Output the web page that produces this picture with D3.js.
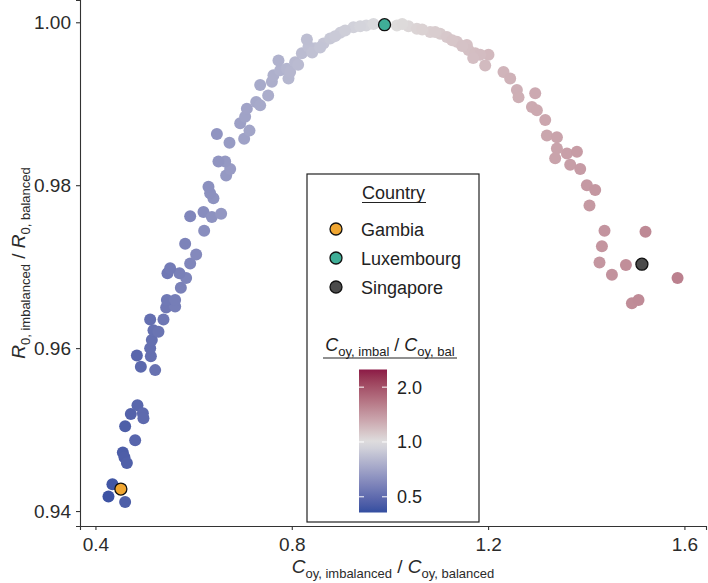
<!DOCTYPE html>
<html><head><meta charset="utf-8">
<script src="https://cdn.jsdelivr.net/npm/d3@7"></script>
<style>body{margin:0;background:#fff;} svg{display:block;font-family:"Liberation Sans",Arial,Helvetica,sans-serif;}</style>
</head><body><svg id="chart" width="708" height="583"></svg>
<script>
// ---- data ----
const xValues = [0.4265,0.4346,0.4605,0.4558,0.4591,0.4640,0.4809,0.4605,0.4721,0.4856,0.4966,0.4978,0.4925,0.5217,0.4844,0.5129,0.5115,0.5149,0.5182,0.5284,0.5115,0.5386,0.5441,0.5624,0.5455,0.5624,0.5740,0.5848,0.5712,0.5467,0.5522,0.5930,0.6052,0.5828,0.6215,0.5930,0.6201,0.6372,0.6561,0.6404,0.6337,0.6303,0.6663,0.6745,0.6643,0.6506,0.6731,0.6474,0.7030,0.7138,0.6949,0.7050,0.7085,0.7275,0.7356,0.7519,0.7356,0.7595,0.7627,0.7933,0.7764,0.7900,0.7729,0.8069,0.8206,0.8477,0.8340,0.8308,0.8646,0.8782,0.8986,0.9257,0.9516,0.9665,1.0142,1.0378,1.0250,1.0549,1.0820,1.1024,1.1160,1.1364,1.1568,1.1601,1.1737,1.2008,1.1941,1.2314,1.2450,1.2587,1.2620,1.2960,1.2893,1.2994,1.3164,1.3198,1.3402,1.3402,1.3606,1.3810,1.3367,1.3673,1.3877,1.4013,1.4182,1.4066,1.4372,1.5207,1.4319,1.4270,1.4808,1.4523,1.5860,1.4930,1.5065,1.0657,1.0922,1.1269,1.1472,1.1839,1.1696,0.7967,0.8130,0.8416,0.8579,0.8884,0.9088,0.9394];
const yValues = [0.9418,0.9433,0.9411,0.9472,0.9466,0.9459,0.9487,0.9504,0.9519,0.9530,0.9520,0.9514,0.9577,0.9573,0.9591,0.9590,0.9600,0.9610,0.9622,0.9620,0.9635,0.9635,0.9650,0.9651,0.9659,0.9659,0.9674,0.9686,0.9692,0.9692,0.9698,0.9704,0.9715,0.9728,0.9744,0.9762,0.9767,0.9761,0.9765,0.9784,0.9790,0.9798,0.9812,0.9820,0.9829,0.9829,0.9852,0.9863,0.9857,0.9867,0.9876,0.9884,0.9894,0.9902,0.9898,0.9910,0.9923,0.9927,0.9935,0.9931,0.9941,0.9943,0.9953,0.9951,0.9962,0.9968,0.9970,0.9979,0.9974,0.9980,0.9987,0.9994,0.9996,0.9998,0.9996,0.9995,0.9998,0.9992,0.9988,0.9986,0.9982,0.9976,0.9972,0.9966,0.9962,0.9960,0.9947,0.9939,0.9931,0.9917,0.9908,0.9913,0.9896,0.9892,0.9880,0.9861,0.9859,0.9845,0.9839,0.9841,0.9833,0.9825,0.9820,0.9800,0.9794,0.9775,0.9744,0.9743,0.9725,0.9705,0.9702,0.9690,0.9686,0.9655,0.9659,0.9991,0.9988,0.9978,0.9971,0.9960,0.9956,0.9939,0.9948,0.9963,0.9969,0.9983,0.9990,0.9995];
const countries = ["Gambia","Luxembourg","Singapore"];
const countryX = [0.4518,0.9890,1.5134];
const countryY = [0.9427,0.9997,0.9703];
const countryColors = ["#f0a631","#3fae97","#4b4b4b"];
const xTicks = [0.4,0.8,1.2,1.6];
const yTicks = [0.94,0.96,0.98,1.00];
const colorTicks = [0.5,1.0,2.0];
const colorLimits = [0.41,2.5];

// ---- setup ----
const svg = d3.select("#chart");
const allX = xValues.concat(countryX), allY = yValues.concat(countryY);
const xe = d3.extent(allX), ye = d3.extent(allY);
const xp = (xe[1]-xe[0])*0.05, yp = (ye[1]-ye[0])*0.05;
const x = d3.scaleLinear().domain([xe[0]-xp, xe[1]+xp]).range([80,706]);
const y = d3.scaleLinear().domain([ye[0]-yp, ye[1]+yp]).range([526,0]);

const lowC="#2c4a9e", midC="#dfdfdf", highC="#8c1a46";
const lmax = Math.max(Math.abs(Math.log(colorLimits[0])), Math.abs(Math.log(colorLimits[1])));
const iLow = d3.interpolateLab(lowC, midC), iHigh = d3.interpolateLab(midC, highC);
function col(v){ const t = 0.5 + Math.log(v)/(2*lmax); return t<0.5 ? iLow(Math.max(0,t*2)) : iHigh(Math.min(1,(t-0.5)*2)); }

// axes
const axisColor = "#333";
const gx = svg.append("g").attr("transform","translate(0,526)")
  .call(d3.axisBottom(x).tickValues(xTicks).tickFormat(d3.format(".1f")).tickSizeOuter(0).tickSize(4).tickPadding(8));
const gy = svg.append("g").attr("transform","translate(80,0)")
  .call(d3.axisLeft(y).tickValues(yTicks).tickFormat(d3.format(".2f")).tickSizeOuter(0).tickSize(4).tickPadding(5));
[gx,gy].forEach(g=>{
  g.select(".domain").attr("stroke",axisColor).attr("stroke-width",1.1);
  g.selectAll(".tick line").attr("stroke",axisColor).attr("stroke-width",1.1);
  g.selectAll(".tick text").attr("fill","#2b2b2b").style("font-size","19px").style("font-family","'Liberation Sans',Arial,sans-serif");
});

// points
const pts = xValues.map((v,i)=>({x:v,y:yValues[i]}));
svg.append("g").selectAll("circle").data(pts).join("circle")
  .attr("cx",d=>x(d.x)).attr("cy",d=>y(d.y)).attr("r",6)
  .attr("fill",d=>col(d.x));
svg.append("g").selectAll("circle").data(countries.map((c,i)=>({c,x:countryX[i],y:countryY[i],f:countryColors[i]}))).join("circle")
  .attr("cx",d=>x(d.x)).attr("cy",d=>y(d.y)).attr("r",6)
  .attr("fill",d=>d.f).attr("stroke","#111").attr("stroke-width",1.3);

// axis titles
function richTitle(g, base, sub1, sub2){
  const t = g.append("text").attr("text-anchor","middle").attr("fill","#2b2b2b");
  t.append("tspan").text(base).style("font-style","italic").style("font-size","19px");
  t.append("tspan").text(sub1).style("font-size","13px").attr("dy",5);
  t.append("tspan").text(" / ").style("font-size","19px").attr("dy",-5);
  t.append("tspan").text(base).style("font-style","italic").style("font-size","19px");
  t.append("tspan").text(sub2).style("font-size","13px").attr("dy",5);
  return t;
}
richTitle(svg.append("g").attr("transform","translate(393,573)"),"C","oy, imbalanced","oy, balanced");
richTitle(svg.append("g").attr("transform","translate(25,263) rotate(-90)"),"R","0, imbalanced","0, balanced");

// legend
const lg = svg.append("g");
lg.append("rect").attr("x",307).attr("y",174).attr("width",172).attr("height",348)
  .attr("fill","#fff").attr("stroke","#222").attr("stroke-width",1.2);
lg.append("text").attr("x",362).attr("y",199).text("Country").style("font-size","18px").attr("fill","#222");
lg.append("line").attr("x1",362).attr("x2",426).attr("y1",202.5).attr("y2",202.5).attr("stroke","#222").attr("stroke-width",1.2);
countries.forEach((c,i)=>{
  const cy = 229 + i*29;
  lg.append("circle").attr("cx",336).attr("cy",cy).attr("r",6).attr("fill",countryColors[i]).attr("stroke","#111").attr("stroke-width",1.3);
  lg.append("text").attr("x",361).attr("y",cy+6.5).text(c).style("font-size","18px").attr("fill","#222");
});
const ct = lg.append("text").attr("x",390).attr("y",351).attr("text-anchor","middle").attr("fill","#222");
ct.append("tspan").text("C").style("font-style","italic").style("font-size","18px");
ct.append("tspan").text("oy, imbal").style("font-size","13px").attr("dy",5);
ct.append("tspan").text(" / ").style("font-size","18px").attr("dy",-5);
ct.append("tspan").text("C").style("font-style","italic").style("font-size","18px");
ct.append("tspan").text("oy, bal").style("font-size","13px").attr("dy",5);
lg.append("line").attr("x1",323).attr("x2",457).attr("y1",358).attr("y2",358).attr("stroke","#222").attr("stroke-width",1.2);

const cs = d3.scaleLog().domain(colorLimits).range([512.5,369.5]);
const defs = svg.append("defs");
const grad = defs.append("linearGradient").attr("id","cbar").attr("x1",0).attr("x2",0).attr("y1",1).attr("y2",0);
d3.range(0,21).forEach(i=>{
  const v = Math.exp(Math.log(colorLimits[0]) + (Math.log(colorLimits[1])-Math.log(colorLimits[0]))*i/20);
  grad.append("stop").attr("offset",(i*5)+"%").attr("stop-color",col(v));
});
lg.append("rect").attr("x",359).attr("y",369.5).attr("width",28).attr("height",143).attr("fill","url(#cbar)");
colorTicks.forEach(v=>{
  const yy = cs(v);
  lg.append("line").attr("x1",359).attr("x2",364).attr("y1",yy).attr("y2",yy).attr("stroke","#fff").attr("stroke-width",1);
  lg.append("line").attr("x1",382).attr("x2",387).attr("y1",yy).attr("y2",yy).attr("stroke","#fff").attr("stroke-width",1);
  lg.append("text").attr("x",397).attr("y",yy+6.5).text(d3.format(".1f")(v)).style("font-size","18px").attr("fill","#222");
});
</script></body></html>
